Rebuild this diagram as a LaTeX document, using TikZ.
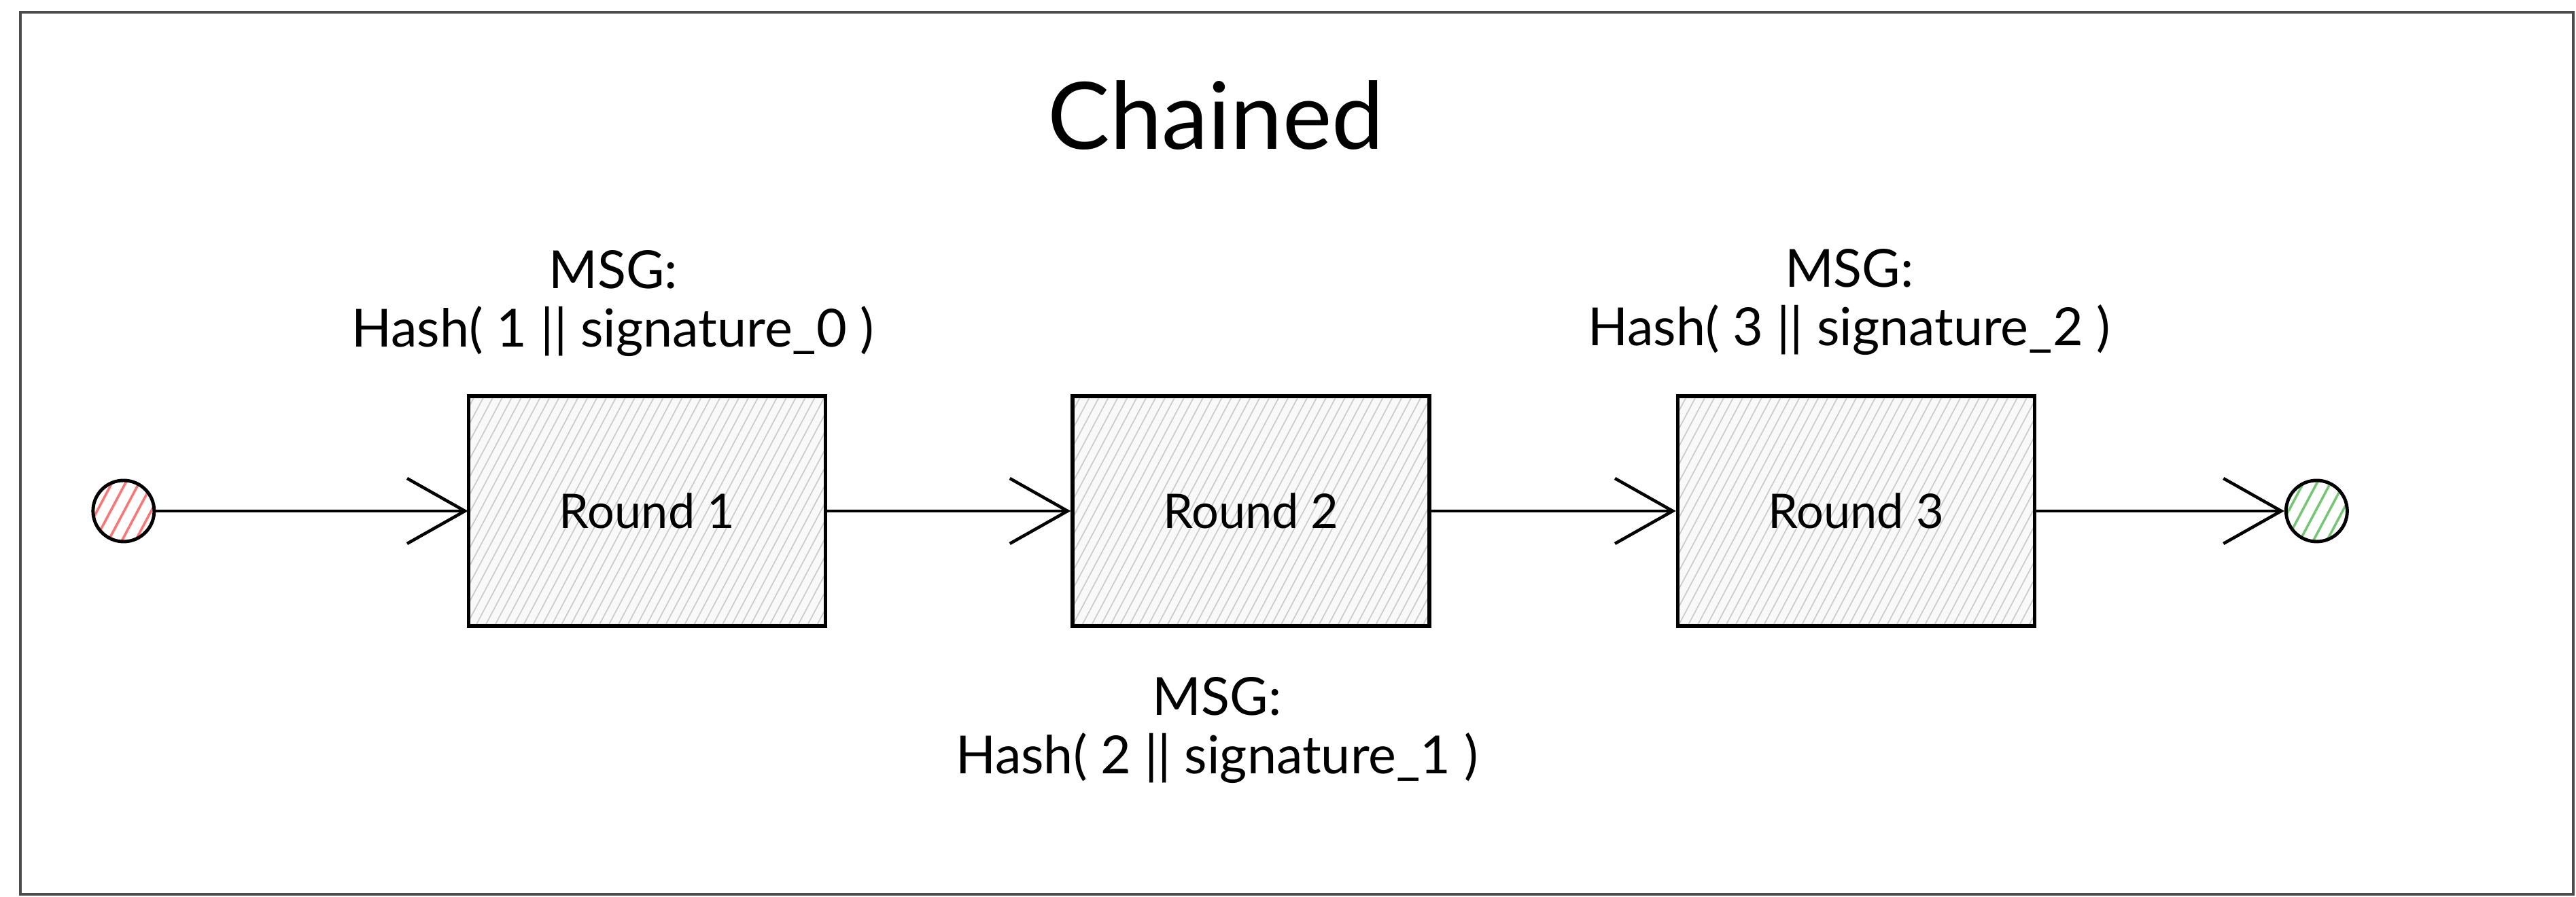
\documentclass[tikz,border=0pt]{standalone}
\usepackage{fontspec}
\setmainfont{Lato}
\usepackage{xcolor}
\usetikzlibrary{arrows.meta,positioning,patterns.meta}

\begin{document}
\begin{tikzpicture}[
  node distance=3.6cm and 3.6cm,
  roundbox/.style={rectangle,draw=black,line width=1.5pt,minimum width=5.25cm,
              minimum height=3.38cm,font=\fontsize{20}{24}\selectfont,
              preaction={fill=gray!5},
              pattern={Lines[angle=62,distance=3.5pt,line width=0.5pt]},pattern color=gray!40},
  endpoint/.style={circle,draw=black,line width=1.4pt,minimum size=0.9cm,inner sep=0pt,
              preaction={fill=white},
              pattern={Lines[angle=62,distance=5pt,line width=1pt]}},
  msg/.style={align=center,font=\fontsize{22}{24.5}\selectfont},
  frame/.style={draw=black!70,line width=1pt},
  arr/.style={-{Straight Barb[length=8.5mm,width=9.6mm]},line width=1.3pt}
]
  \useasboundingbox (0,0) rectangle (37.9,13.2);
  \draw[frame] (0.3,0.04) rectangle (37.86,13.02);

  \node[font=\fontsize{39}{44}\selectfont] (title) at (17.89,11.5) {Chained};

  % the three rounds
  \node[roundbox] (r1) at (9.52,5.68) {Round 1};
  \node[roundbox,right=of r1] (r2) {Round 2};
  \node[roundbox,right=of r2] (r3) {Round 3};

  \node[endpoint,pattern color=red!55,left=4.6cm of r1] (start) {};
  \node[endpoint,pattern color=green!60!black!55,right=3.65cm of r3] (finish) {};

  % messages signed in each round
  \node[msg,above=0.45cm of r1,xshift=-5mm] (m1) {MSG:\\Hash( 1 || signature\_0 )};
  \node[msg,below=0.6cm of r2,xshift=-5mm] (m2) {MSG:\\Hash( 2 || signature\_1 )};
  \node[msg,above=0.45cm of r3,xshift=-1mm] (m3) {MSG:\\Hash( 3 || signature\_2 )};

  \draw[arr] (start) -- (r1);
  \draw[arr] (r1) -- (r2);
  \draw[arr] (r2) -- (r3);
  \draw[arr] (r3) -- (finish);
\end{tikzpicture}
\end{document}
